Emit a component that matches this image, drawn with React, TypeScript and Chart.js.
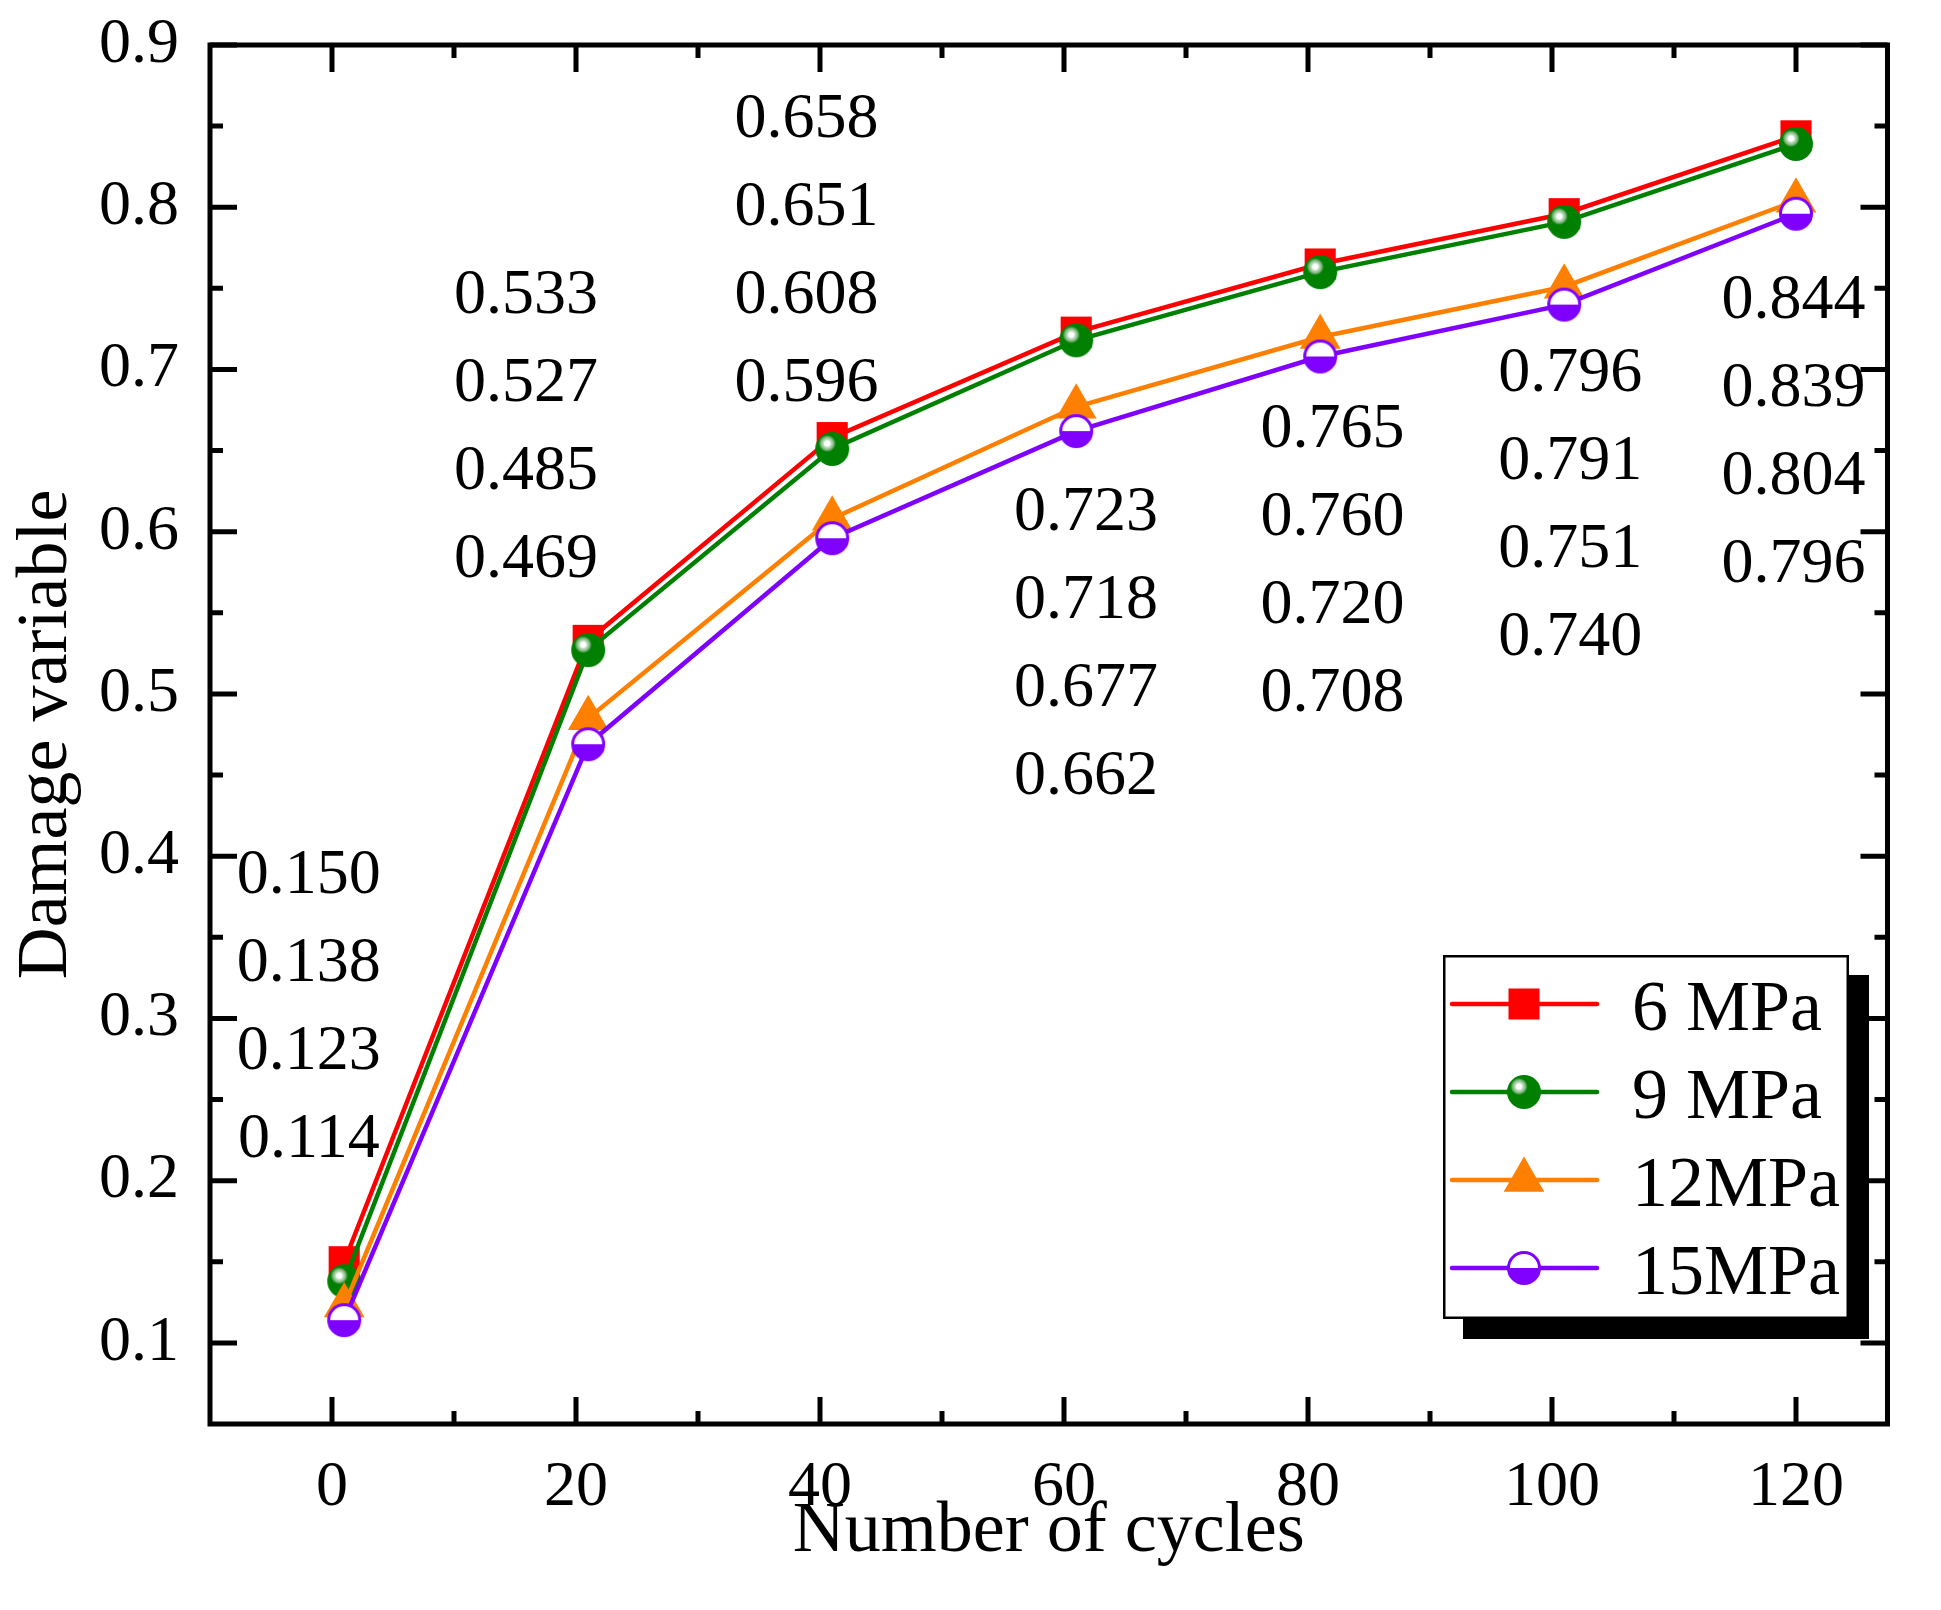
import React, { useEffect, useRef } from "react";
import { Chart, registerables } from "chart.js";

Chart.register(...registerables);

// ---- data ----
const cycles = [1, 21, 41, 61, 81, 101, 120];
const series6 = [0.150, 0.533, 0.658, 0.723, 0.765, 0.796, 0.844];
const series9 = [0.138, 0.527, 0.651, 0.718, 0.760, 0.791, 0.839];
const series12 = [0.123, 0.485, 0.608, 0.677, 0.720, 0.751, 0.804];
const series15 = [0.114, 0.469, 0.596, 0.662, 0.708, 0.740, 0.796];
const seriesLabels = ["6 MPa", "9 MPa", "12MPa", "15MPa"];
const seriesColors = ["#FF0000", "#008000", "#FF8000", "#8000FF"];
const markerTypes = ["square", "sphere", "triangle", "halfcircle"];

const xTicks = [0, 20, 40, 60, 80, 100, 120];
const xMinorTicks = [10, 30, 50, 70, 90, 110];
const yTicks = [0.1, 0.2, 0.3, 0.4, 0.5, 0.6, 0.7, 0.8, 0.9];
const yMinorTicks = [0.15, 0.25, 0.35, 0.45, 0.55, 0.65, 0.75, 0.85];

// value label stacks: anchor (x in cycles, y of first line in damage units)
const annotationX = [-1.9, 15.9, 38.9, 61.8, 82.0, 101.5, 119.8];
const annotationY = [0.377, 0.735, 0.843, 0.601, 0.652, 0.687, 0.732];

const FONT = "'Liberation Serif', 'Times New Roman', serif";

function makeSphere(): HTMLCanvasElement {
  const c = document.createElement("canvas");
  c.width = 38;
  c.height = 38;
  const g = c.getContext("2d")!;
  g.beginPath();
  g.arc(19, 19, 17, 0, Math.PI * 2);
  g.fillStyle = "#008000";
  g.fill();
  const hx = 14, hy = 13.5;
  const grad = g.createRadialGradient(hx, hy, 0, hx, hy, 9);
  grad.addColorStop(0, "#ffffff");
  grad.addColorStop(0.28, "#ffffff");
  grad.addColorStop(0.42, "#c4e0c4");
  grad.addColorStop(0.7, "#7fb87f");
  grad.addColorStop(0.85, "#3d963d");
  grad.addColorStop(1, "rgba(0,128,0,0)");
  g.beginPath();
  g.arc(hx, hy, 9, 0, Math.PI * 2);
  g.fillStyle = grad;
  g.fill();
  return c;
}

function makeHalfCircle(): HTMLCanvasElement {
  const c = document.createElement("canvas");
  c.width = 38;
  c.height = 38;
  const g = c.getContext("2d")!;
  g.beginPath();
  g.arc(19, 19, 15.5, 0, Math.PI * 2);
  g.fillStyle = "#ffffff";
  g.fill();
  g.beginPath();
  g.arc(19, 19, 15.5, 0, Math.PI);
  g.closePath();
  g.fillStyle = "#8000FF";
  g.fill();
  g.beginPath();
  g.arc(19, 19, 15.5, 0, Math.PI * 2);
  g.lineWidth = 3;
  g.strokeStyle = "#8000FF";
  g.stroke();
  return c;
}

export default function App() {
  const ref = useRef<HTMLCanvasElement | null>(null);

  useEffect(() => {
    document.body.style.margin = "0";
    document.body.style.overflow = "hidden";
    const canvas = ref.current;
    if (!canvas) return;

    const sphere = makeSphere();
    const half = makeHalfCircle();
    const allSeries = [series6, series9, series12, series15];

    const pointStyleFor = (t: string): any =>
      t === "square" ? "rect" : t === "triangle" ? "triangle" : t === "sphere" ? sphere : half;
    const radiusFor = (t: string) => (t === "square" ? 22 : t === "triangle" ? 23.5 : 17);

    const drawMarker = (ctx: CanvasRenderingContext2D, t: string, x: number, y: number, color: string) => {
      if (t === "square") {
        ctx.fillStyle = color;
        ctx.fillRect(x - 15.5, y - 15.5, 31, 31);
      } else if (t === "triangle") {
        const r = 23.5;
        const c30 = Math.cos(Math.PI / 6);
        ctx.beginPath();
        ctx.moveTo(x, y - r);
        ctx.lineTo(x + r * c30, y + r / 2);
        ctx.lineTo(x - r * c30, y + r / 2);
        ctx.closePath();
        ctx.fillStyle = color;
        ctx.fill();
      } else {
        const img = t === "sphere" ? sphere : half;
        ctx.drawImage(img, x - img.width / 2, y - img.height / 2);
      }
    };

    const datasets = allSeries.map((s, i) => ({
      label: seriesLabels[i],
      data: cycles.map((c, j) => ({ x: c, y: s[j] })),
      borderColor: seriesColors[i],
      backgroundColor: seriesColors[i],
      borderWidth: 4.5,
      pointStyle: pointStyleFor(markerTypes[i]),
      pointRadius: radiusFor(markerTypes[i]),
      pointBackgroundColor: seriesColors[i],
      pointBorderColor: seriesColors[i],
      pointBorderWidth: 0,
      tension: 0,
      order: 3 - i,
      clip: false as any,
    }));

    const overlay = {
      id: "overlay",
      afterDraw(chart: any) {
        const ctx: CanvasRenderingContext2D = chart.ctx;
        const xs = chart.scales.x;
        const ys = chart.scales.y;
        const { left, right, top, bottom } = chart.chartArea;

        // value annotations
        ctx.save();
        ctx.fillStyle = "#000";
        ctx.font = `64px ${FONT}`;
        ctx.textAlign = "center";
        ctx.textBaseline = "alphabetic";
        annotationX.forEach((ax, i) => {
          const px = xs.getPixelForValue(ax);
          const py = ys.getPixelForValue(annotationY[i]);
          allSeries.forEach((s, k) => {
            ctx.fillText(s[i].toFixed(3), px, py + k * 88);
          });
        });
        ctx.restore();

        // frame and inward ticks
        ctx.save();
        ctx.strokeStyle = "#000";
        ctx.lineWidth = 5;
        ctx.lineCap = "butt";
        ctx.strokeRect(left, top, right - left, bottom - top);
        const vt = (v: number, len: number) => {
          const px = xs.getPixelForValue(v);
          ctx.beginPath();
          ctx.moveTo(px, bottom);
          ctx.lineTo(px, bottom - len);
          ctx.moveTo(px, top);
          ctx.lineTo(px, top + len);
          ctx.stroke();
        };
        const ht = (v: number, len: number) => {
          const py = ys.getPixelForValue(v);
          ctx.beginPath();
          ctx.moveTo(left, py);
          ctx.lineTo(left + len, py);
          ctx.moveTo(right, py);
          ctx.lineTo(right - len, py);
          ctx.stroke();
        };
        xTicks.forEach((v) => vt(v, 27));
        xMinorTicks.forEach((v) => vt(v, 13));
        yTicks.forEach((v) => ht(v, 27));
        yMinorTicks.forEach((v) => ht(v, 13));
        ctx.restore();

        // legend with shadow
        ctx.save();
        const bx = right - 444.5;
        const by = bottom - 469;
        const bw = 406;
        const bh = 364;
        ctx.fillStyle = "#000";
        ctx.fillRect(bx + 20, by + 20, bw, bh);
        ctx.fillStyle = "#fff";
        ctx.fillRect(bx, by, bw, bh);
        ctx.strokeStyle = "#000";
        ctx.lineWidth = 2.5;
        ctx.strokeRect(bx + 1.25, by + 1.25, bw - 2.5, bh - 2.5);
        ctx.font = `72px ${FONT}`;
        ctx.textAlign = "left";
        ctx.textBaseline = "alphabetic";
        seriesLabels.forEach((lab, i) => {
          const ry = by + 49 + i * 88;
          ctx.strokeStyle = seriesColors[i];
          ctx.lineWidth = 4.5;
          ctx.lineCap = "round";
          ctx.beginPath();
          ctx.moveTo(bx + 9, ry);
          ctx.lineTo(bx + 154, ry);
          ctx.stroke();
          drawMarker(ctx, markerTypes[i], bx + 81, ry, seriesColors[i]);
          ctx.fillStyle = "#000";
          ctx.fillText(lab, bx + 189, ry + 26);
        });
        ctx.restore();
      },
    };

    const chart = new Chart(canvas, {
      type: "line",
      data: { datasets: datasets as any },
      options: {
        animation: false,
        responsive: false,
        devicePixelRatio: 1,
        layout: { padding: { top: 45, right: 53.5, bottom: 36, left: 0 } },
        plugins: {
          legend: { display: false },
          tooltip: { enabled: false },
        },
        scales: {
          x: {
            type: "linear",
            min: -10,
            max: 127.5,
            afterBuildTicks: (s: any) => {
              s.ticks = xTicks.map((v) => ({ value: v }));
            },
            afterFit: (s: any) => {
              s.height = 150;
              s.paddingLeft = 0;
              s.paddingRight = 0;
              s.paddingTop = 0;
              s.paddingBottom = 0;
            },
            grid: { display: false, drawTicks: false },
            border: { display: false },
            ticks: {
              color: "#000",
              padding: 26,
              maxRotation: 0,
              autoSkip: false,
              font: { family: FONT, size: 64 },
              callback: (v: any) => String(v),
            },
            title: {
              display: true,
              text: "Number of cycles",
              color: "#000",
              padding: 0,
              font: { family: FONT, size: 72, lineHeight: 84 / 72 },
            },
          },
          y: {
            type: "linear",
            min: 0.05,
            max: 0.9,
            afterBuildTicks: (s: any) => {
              s.ticks = yTicks.map((v) => ({ value: v }));
            },
            afterFit: (s: any) => {
              s.width = 210;
              s.paddingLeft = 0;
              s.paddingRight = 0;
              s.paddingTop = 0;
              s.paddingBottom = 0;
            },
            grid: { display: false, drawTicks: false },
            border: { display: false },
            ticks: {
              color: "#000",
              padding: 31,
              autoSkip: false,
              font: { family: FONT, size: 64 },
              callback: (v: any) => Number(v).toFixed(1),
            },
            title: {
              display: true,
              text: "Damage variable",
              color: "#000",
              padding: 0,
              font: { family: FONT, size: 72, lineHeight: 94 / 72 },
            },
          },
        },
      },
      plugins: [overlay],
    });

    return () => chart.destroy();
  }, []);

  return (
    <div style={{ position: "absolute", left: 0, top: 0, width: 1941, height: 1610, background: "#fff" }}>
      <canvas ref={ref} width={1941} height={1610} style={{ width: 1941, height: 1610, display: "block" }} />
    </div>
  );
}
